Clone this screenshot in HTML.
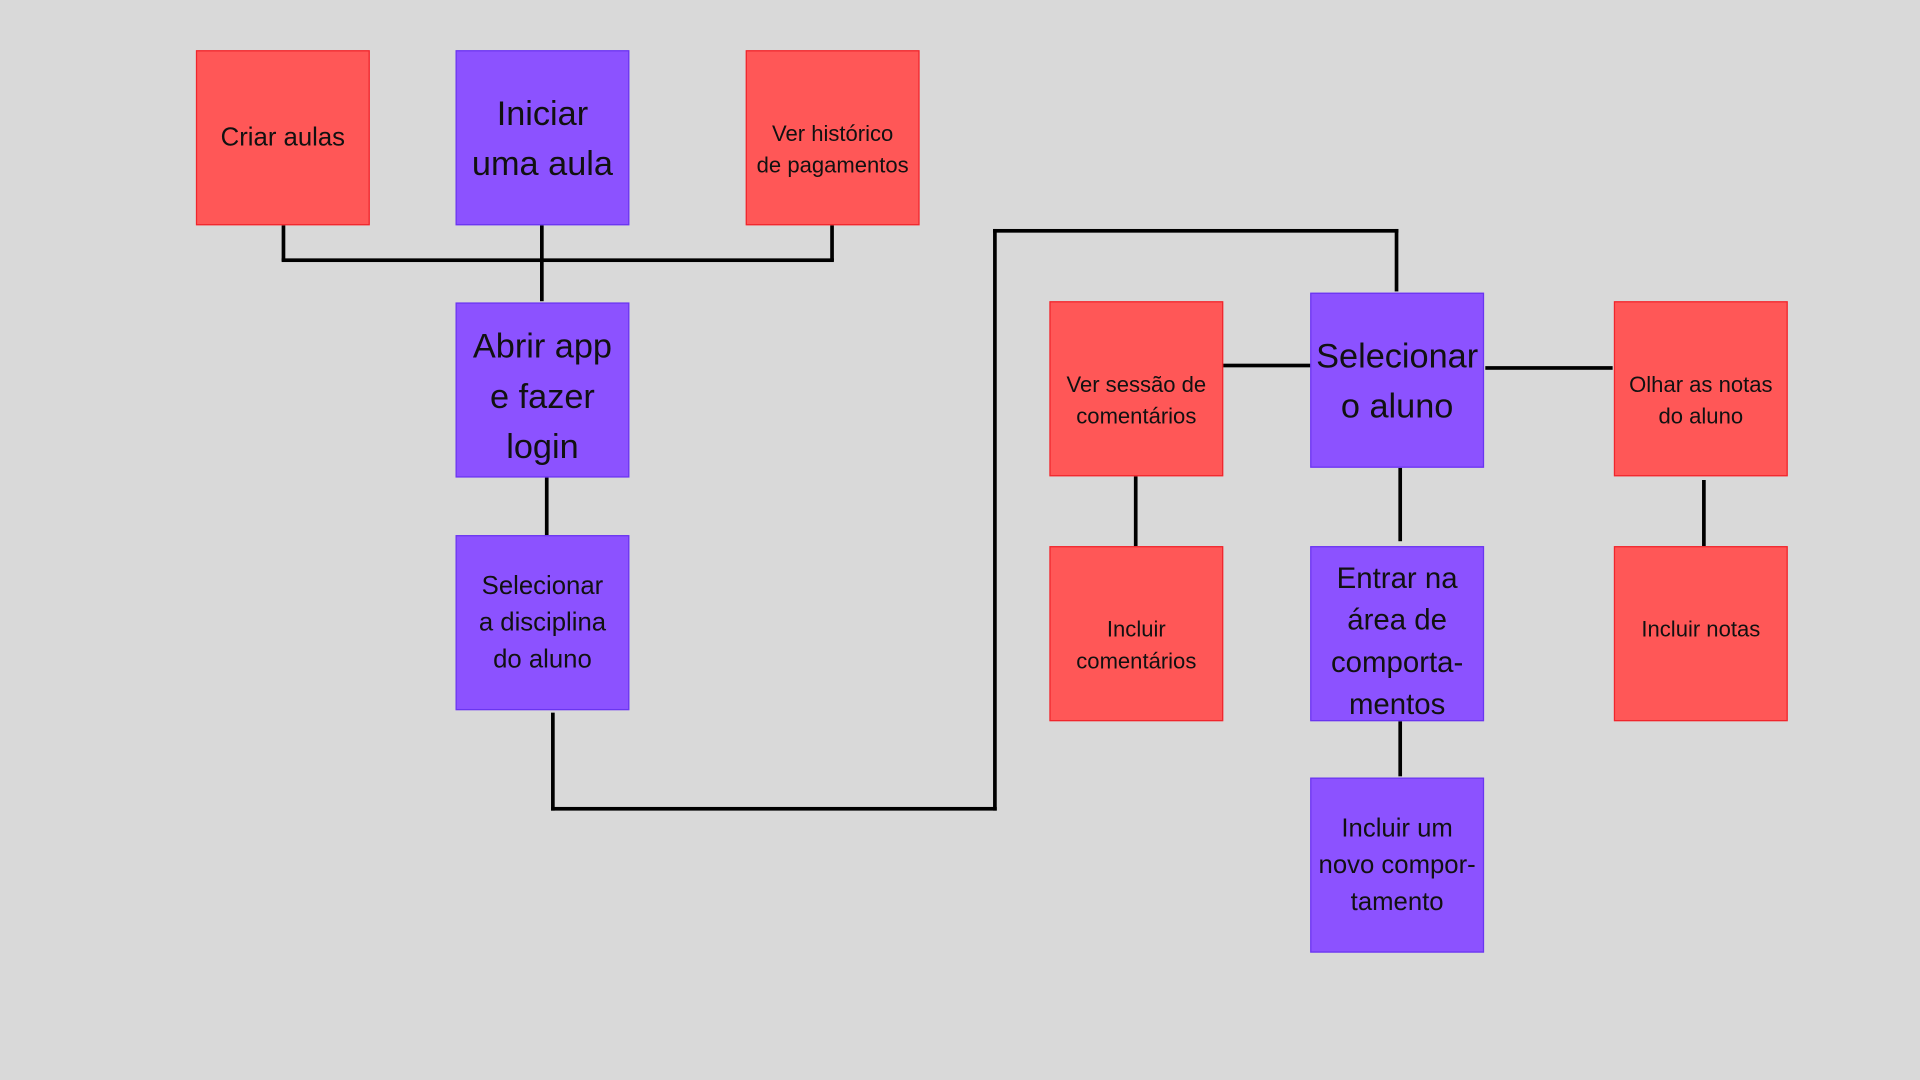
<!DOCTYPE html>
<html><head><meta charset="utf-8"><style>
html,body{margin:0;padding:0;background:#d9d9d9;overflow:hidden;width:1920px;height:1080px}
#c{position:absolute;left:0;top:0;width:1568px;height:882px;transform:scale(1.2244898);transform-origin:0 0;font-family:"Liberation Sans","DejaVu Sans",sans-serif}
.b{position:absolute;width:142px;height:142px;box-sizing:border-box;display:flex;align-items:center;justify-content:center;text-align:center;color:#111;line-height:1.4}
.r{background:#ff5757;border:1.5px solid #f0252c}
.p{background:#8c52ff;border:1.5px solid #6a35f0}
.s{font-size:18px;line-height:26px}
.m{font-size:21px;line-height:30px}
.l{font-size:28px;line-height:41px}
.d{padding-top:18px}
.h,.v{position:absolute;background:#000}
.h{height:3px}.v{width:3px}
</style></head><body><div id="c">
<div class="h" style="left:230px;top:211px;width:451px"></div>
<div class="v" style="left:230px;top:184px;height:29px"></div>
<div class="v" style="left:678px;top:184px;height:29px"></div>
<div class="v" style="left:441px;top:184px;height:62px"></div>
<div class="v" style="left:445px;top:390px;height:48px"></div>
<div class="v" style="left:450px;top:582px;height:80px"></div>
<div class="h" style="left:450px;top:659px;width:364px"></div>
<div class="v" style="left:811px;top:187px;height:475px"></div>
<div class="h" style="left:811px;top:187px;width:331px"></div>
<div class="v" style="left:1139px;top:187px;height:51px"></div>
<div class="h" style="left:998px;top:297px;width:73px"></div>
<div class="h" style="left:1213px;top:299px;width:104px"></div>
<div class="v" style="left:926px;top:389px;height:60px"></div>
<div class="v" style="left:1142px;top:382px;height:60px"></div>
<div class="v" style="left:1390px;top:392px;height:54px"></div>
<div class="v" style="left:1142px;top:589px;height:45px"></div>

<div class="b r m" style="left:160px;top:41px;height:143px">Criar aulas</div>
<div class="b p l" style="left:372px;top:41px;height:143px">Iniciar<br>uma aula</div>
<div class="b r s d" style="left:609px;top:41px;height:143px">Ver histórico<br>de pagamentos</div>
<div class="b p l" style="left:372px;top:247px;height:143px;padding-top:10px">Abrir app<br>e fazer<br>login</div>
<div class="b p m" style="left:372px;top:437px;height:143px">Selecionar<br>a disciplina<br>do aluno</div>
<div class="b r s d" style="left:857px;top:246px;height:143px">Ver sessão de<br>comentários</div>
<div class="b p l" style="left:1070px;top:239px;height:143px">Selecionar<br>o aluno</div>
<div class="b r s d" style="left:1318px;top:246px;height:143px">Olhar as notas<br>do aluno</div>
<div class="b r s d" style="left:857px;top:446px;height:143px">Incluir<br>comentários</div>
<div class="b p" style="left:1070px;top:446px;height:143px;font-size:24px;line-height:34.5px;padding-top:14px">Entrar na<br>área de<br>comporta-<br>mentos</div>
<div class="b r s" style="left:1318px;top:446px;height:143px;padding-bottom:8px">Incluir notas</div>
<div class="b p m" style="left:1070px;top:635px;height:143px">Incluir um<br>novo compor-<br>tamento</div>
</div></body></html>
